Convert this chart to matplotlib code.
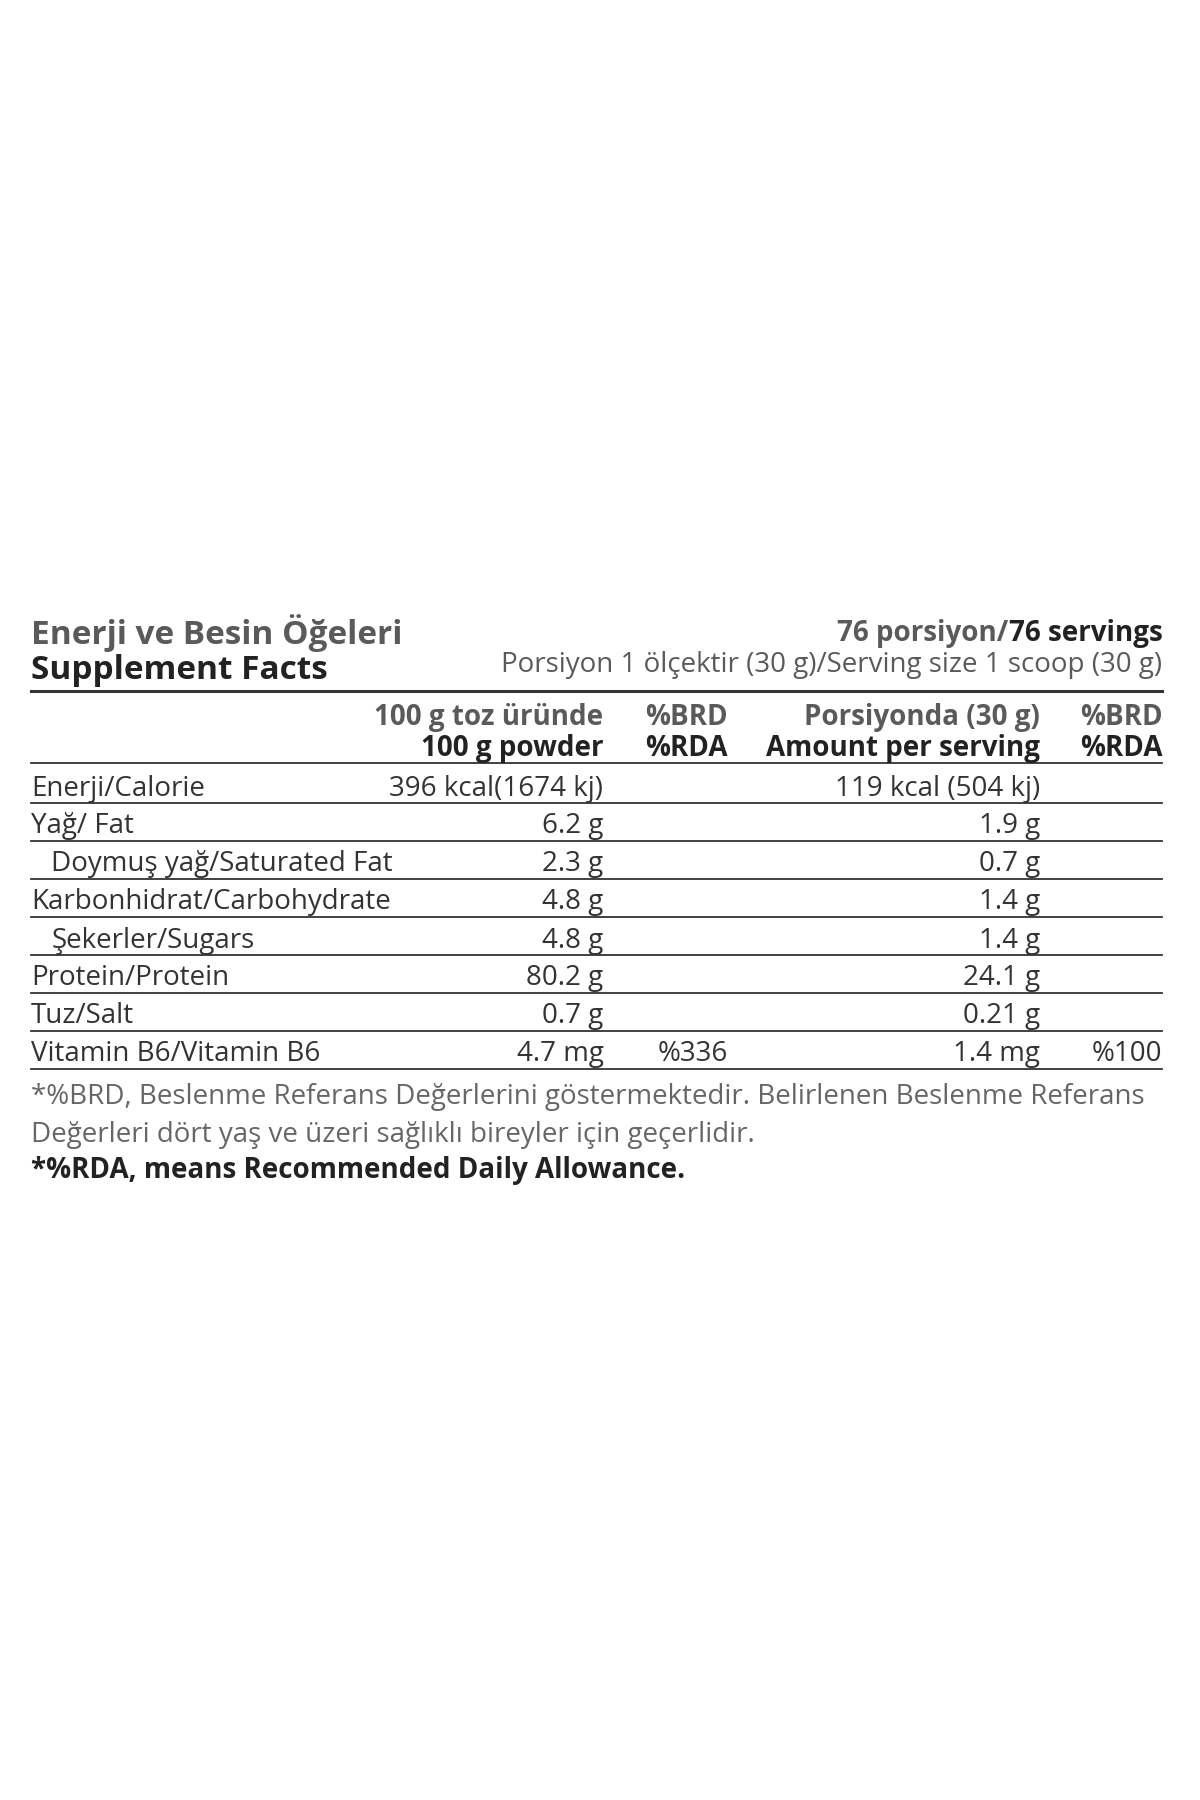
import matplotlib
matplotlib.use("Agg")
import matplotlib.pyplot as plt

title_tr = "Enerji ve Besin Öğeleri"
title_en = "Supplement Facts"
servings = ["76 porsiyon/", "76 servings"]
serving_size = "Porsiyon 1 ölçektir (30 g)/Serving size 1 scoop (30 g)"
headers = [("100 g toz üründe", "100 g powder"), ("%BRD", "%RDA"),
           ("Porsiyonda (30 g)", "Amount per serving"), ("%BRD", "%RDA")]
nutrients = ["Enerji/Calorie", "Yağ/ Fat", "Doymuş yağ/Saturated Fat", "Karbonhidrat/Carbohydrate",
             "Şekerler/Sugars", "Protein/Protein", "Tuz/Salt", "Vitamin B6/Vitamin B6"]
indent = [0, 0, 1, 0, 1, 0, 0, 0]
per100 = ["396 kcal(1674 kj)", "6.2 g", "2.3 g", "4.8 g", "4.8 g", "80.2 g", "0.7 g", "4.7 mg"]
rda100 = ["", "", "", "", "", "", "", "%336"]
perserv = ["119 kcal (504 kj)", "1.9 g", "0.7 g", "1.4 g", "1.4 g", "24.1 g", "0.21 g", "1.4 mg"]
rdaserv = ["", "", "", "", "", "", "", "%100"]
foot = ["*%BRD, Beslenme Referans Değerlerini göstermektedir. Belirlenen Beslenme Referans",
        "Değerleri dört yaş ve üzeri sağlıklı bireyler için geçerlidir."]
foot_bold = "*%RDA, means Recommended Daily Allowance."

plt.rcParams['font.family'] = ['Open Sans', 'DejaVu Sans']
fig = plt.figure(figsize=(12, 18), dpi=100)
ax = fig.add_axes([0, 0, 1, 1])
ax.set_xlim(0, 1050); ax.set_ylim(1575, 0); ax.axis('off')

FS = 20
HFS = 20
grey = "#5a5a5a"; dark = "#222222"; body = "#333333"
L, R = 27, 1017
D = 4
ax.text(L, 550 + D, title_tr, fontsize=24, fontweight='bold', color=grey, va='center')
ax.text(L, 583 + D, title_en, fontsize=24, fontweight='bold', color=dark, va='center')
t = ax.text(R, 550 + D, servings[1], fontsize=HFS, fontweight='bold', color=dark, va='center', ha='right')
fig.canvas.draw()
bb = t.get_window_extent().transformed(ax.transData.inverted())
ax.text(bb.x0, 550 + D, servings[0], fontsize=HFS, fontweight='bold', color=grey, va='center', ha='right')
ax.text(R, 578 + D, serving_size, fontsize=FS, color=grey, va='center', ha='right')
ax.plot([L, R], [605, 605], color="#333", lw=2.2)
cols = [528, 637, 910, 1017]
for x, (a, b) in zip(cols, headers):
    ax.text(x, 624 + D, a, fontsize=HFS, fontweight='bold', color=grey, va='center', ha='right')
    ax.text(x, 651 + D, b, fontsize=HFS, fontweight='bold', color=dark, va='center', ha='right')
ax.plot([L, R], [668, 668], color="#333", lw=1.3)
ys = [686, 719, 752, 785, 819, 852, 885, 918]
for i, y in enumerate(ys):
    ax.text(L + 18 * indent[i], y + D, nutrients[i], fontsize=FS, color=body, va='center')
    for x, v in zip(cols, [per100[i], rda100[i], perserv[i], rdaserv[i]]):
        ax.text(x, y + D, v, fontsize=FS, color=body, va='center', ha='right')
    ax.plot([L, R], [y + 17, y + 17], color="#333", lw=1.3)
ax.text(L, 956 + D, foot[0], fontsize=FS, color="#666", va='center')
ax.text(L, 989 + D, foot[1], fontsize=FS, color="#666", va='center')
ax.text(L, 1020 + D, foot_bold, fontsize=FS, fontweight='bold', color=dark, va='center')
fig.savefig("out.png", dpi=100, facecolor='white')
